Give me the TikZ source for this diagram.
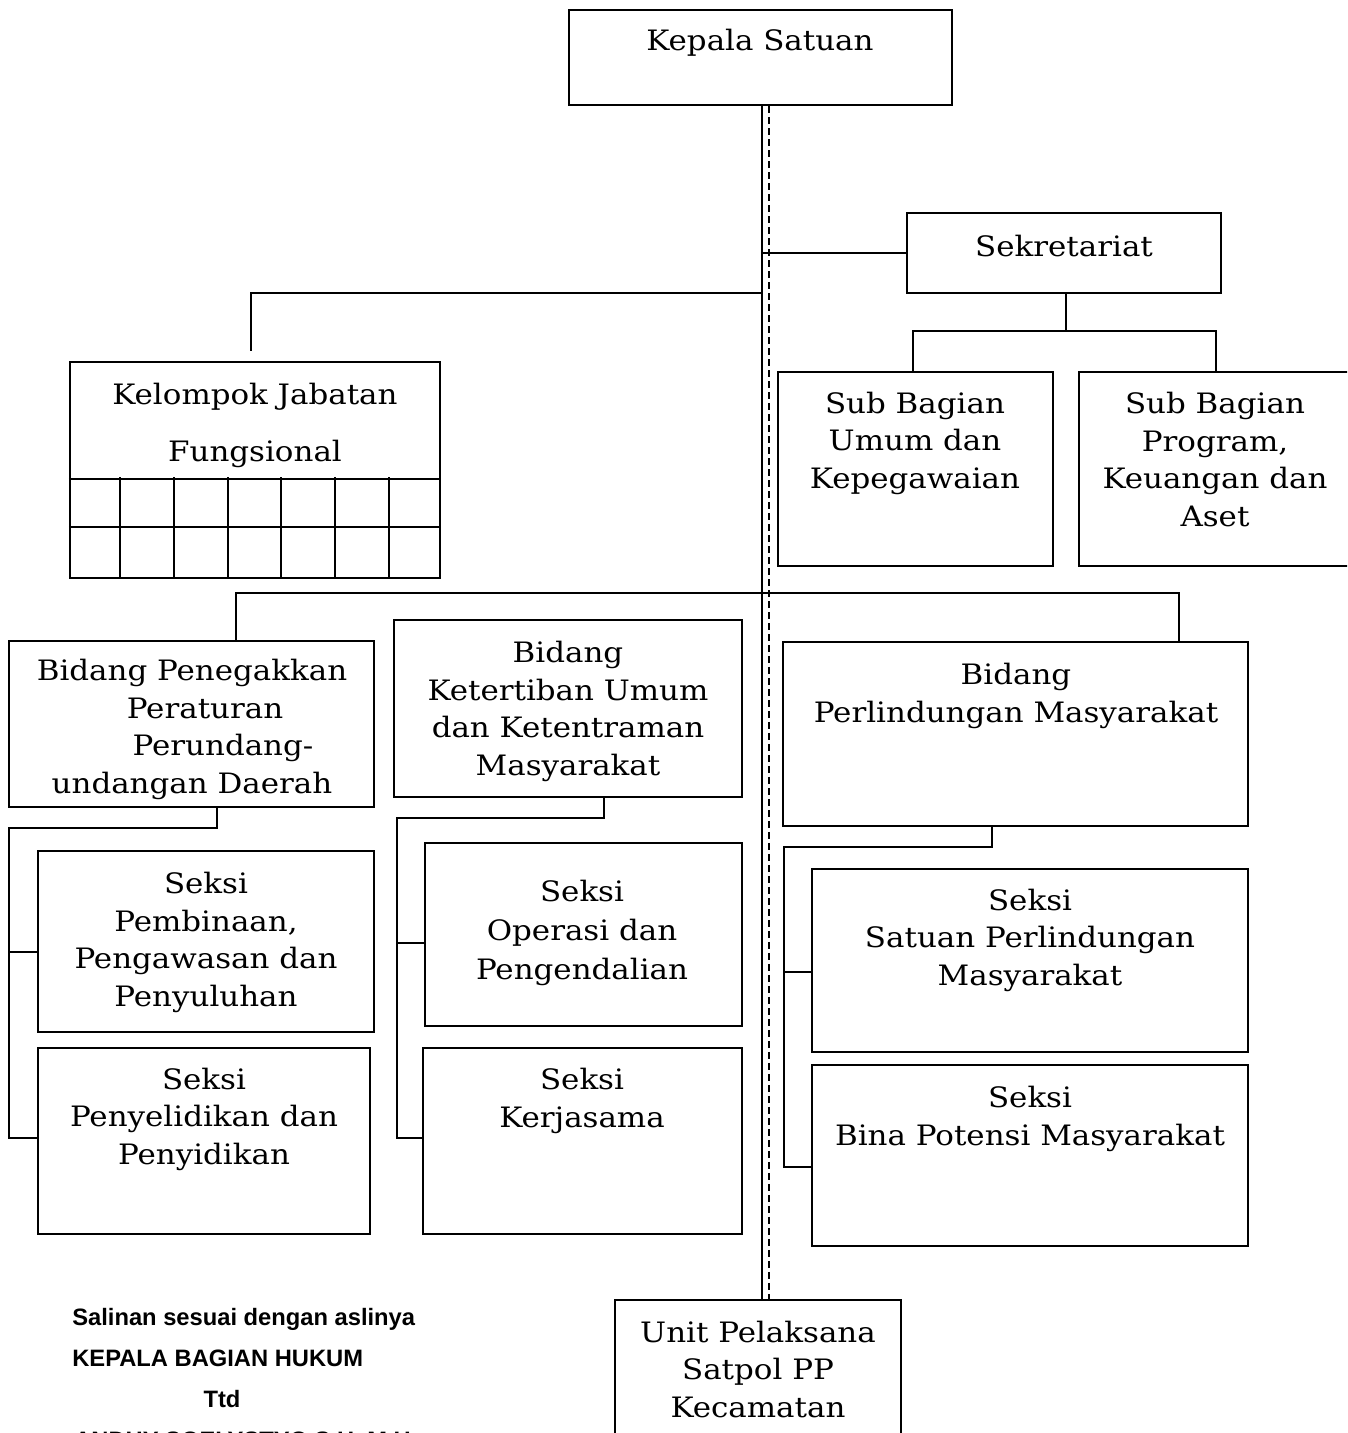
\documentclass[tikz,border=0pt]{standalone}
\usepackage{fontspec}
\setmainfont{DejaVu Serif}[FakeStretch=1.1]
\newfontfamily\footfont{Liberation Sans}
\usetikzlibrary{fit,calc}
\begin{document}
\begin{tikzpicture}[x=0.02cm,y=-0.02cm,
  box/.style={draw, line width=1.25pt, inner sep=0pt},
  conn/.style={line width=1.25pt},
  txt/.style={inner sep=0pt, align=center, anchor=base, font=\fontsize{16}{21.3}\selectfont},
  foot/.style={inner sep=0pt, anchor=base west, font=\footfont\bfseries\fontsize{13.5}{16}\selectfont}]
\useasboundingbox (0,0) rectangle (1347,1433);
\clip (0,0) rectangle (1347,1433);

% boxes
\node[box, fit={(569,10) (952,105)}] (kepala) {};
\node[box, fit={(907,213) (1221,293)}] (sekr) {};
\node[box, fit={(70,362) (440,578)}] (kel) {};
\node[box, fit={(778,372) (1053,566)}] (sub1) {};
\node[box, fit={(1079,372) (1353,566)}] (sub2) {};
\node[box, fit={(9,641) (374,807)}] (bpen) {};
\node[box, fit={(394,620) (742,797)}] (bket) {};
\node[box, fit={(783,642) (1248,826)}] (bperl) {};
\node[box, fit={(38,851) (374,1032)}] (spemb) {};
\node[box, fit={(38,1048) (370,1234)}] (speny) {};
\node[box, fit={(425,843) (742,1026)}] (sops) {};
\node[box, fit={(423,1048) (742,1234)}] (skerj) {};
\node[box, fit={(812,869) (1248,1052)}] (ssat) {};
\node[box, fit={(812,1065) (1248,1246)}] (sbina) {};
\node[box, fit={(615,1300) (901,1460)}] (unit) {};

% grid inside Kelompok Jabatan Fungsional
\draw[conn] (kel.west |- 0,479) -- (kel.east |- 0,479);
\draw[conn] (kel.west |- 0,527) -- (kel.east |- 0,527);
\foreach \gx in {120,174,228,281,335,389}
  \draw[conn] (\gx,477) -- (kel.south -| \gx,0);

% connectors
\coordinate (sp) at (762,0);
\coordinate (dp) at (769,0);
\draw[conn] (kepala.south -| sp) -- (unit.north -| sp);
\draw[conn, dash pattern=on 0.14cm off 0.08cm] (kepala.south -| dp) -- (unit.north -| dp);
\draw[conn] (sekr.west) -- (sekr.west -| sp);

\coordinate (kj) at (251,293);
\coordinate (ke) at (251,351);
\draw[conn] (sp |- kj) -- (kj) -- (ke);

\coordinate (sj) at (1066,331);
\coordinate (sl) at (913,331);
\coordinate (sr) at (1216,331);
\draw[conn] (sekr.south -| sj) -- (sj);
\draw[conn] (sub1.north -| sl) -- (sl) -- (sr) -- (sub2.north -| sr);

\coordinate (hl) at (236,593);
\coordinate (hr) at (1179,593);
\draw[conn] (bpen.north -| hl) -- (hl) -- (hr) -- (bperl.north -| hr);

\coordinate (pa) at (217,828);
\coordinate (pb) at (9,828);
\coordinate (pc) at (9,1138);
\draw[conn] (bpen.south -| pa) -- (pa) -- (pb) -- (pc) -- (speny.west |- pc);
\draw[conn] (pb |- 0,952) -- (spemb.west |- 0,952);

\coordinate (ka) at (604,818);
\coordinate (kb) at (397,818);
\coordinate (kc) at (397,1138);
\draw[conn] (bket.south -| ka) -- (ka) -- (kb) -- (kc) -- (skerj.west |- kc);
\draw[conn] (kb |- 0,943) -- (sops.west |- 0,943);

\coordinate (la) at (992,847);
\coordinate (lb) at (784,847);
\coordinate (lc) at (784,1167);
\draw[conn] (bperl.south -| la) -- (la) -- (lb) -- (lc) -- (sbina.west |- lc);
\draw[conn] (lb |- 0,972) -- (ssat.west |- 0,972);

% texts (anchor at baseline of the last line)
\node[txt] (kepala-t) at (760,51) {Kepala Satuan};
\node[txt] (sekr-t) at (1064,256) {Sekretariat};
\node[txt] (kel-t) at (255,461) {Kelompok Jabatan\\[0.39cm]Fungsional};
\node[txt] (sub1-t) at (915,488) {Sub Bagian\\Umum dan\\Kepegawaian};
\node[txt] (sub2-t) at (1215,526) {Sub Bagian\\Program,\\Keuangan dan\\Aset};
\node[txt] (bpen-t) at (192,793) {Bidang Penegakkan\\\hspace*{0.52cm}Peraturan\\\hspace*{1.24cm}Perundang-\\undangan Daerah};
\node[txt] (bket-t) at (568,775) {Bidang\\Ketertiban Umum\\dan Ketentraman\\Masyarakat};
\node[txt] (bperl-t) at (1016,722) {Bidang\\Perlindungan Masyarakat};
\node[txt] (spemb-t) at (206,1006) {Seksi\\Pembinaan,\\Pengawasan dan\\Penyuluhan};
\node[txt] (speny-t) at (204,1164) {Seksi\\Penyelidikan dan\\Penyidikan};
\node[txt, font=\fontsize{16}{22.2}\selectfont] (sops-t) at (582,979) {Seksi\\Operasi dan\\Pengendalian};
\node[txt] (skerj-t) at (582,1127) {Seksi\\Kerjasama};
\node[txt] (ssat-t) at (1030,985) {Seksi\\Satuan Perlindungan\\Masyarakat};
\node[txt] (sbina-t) at (1030,1145) {Seksi\\Bina Potensi Masyarakat};
\node[txt] (unit-t) at (758,1417) {Unit Pelaksana\\Satpol PP\\Kecamatan};

% footer
\node[foot] (f1) at (72,1325) {Salinan sesuai dengan aslinya};
\node[foot] (f2) at (72,1366) {KEPALA BAGIAN HUKUM};
\node[foot, anchor=base] (f3) at (222,1407) {Ttd};
\node[foot] (f4) at (74,1448) {ANDHY SOELYSTYO S.H.,M.H.};
\end{tikzpicture}
\end{document}
